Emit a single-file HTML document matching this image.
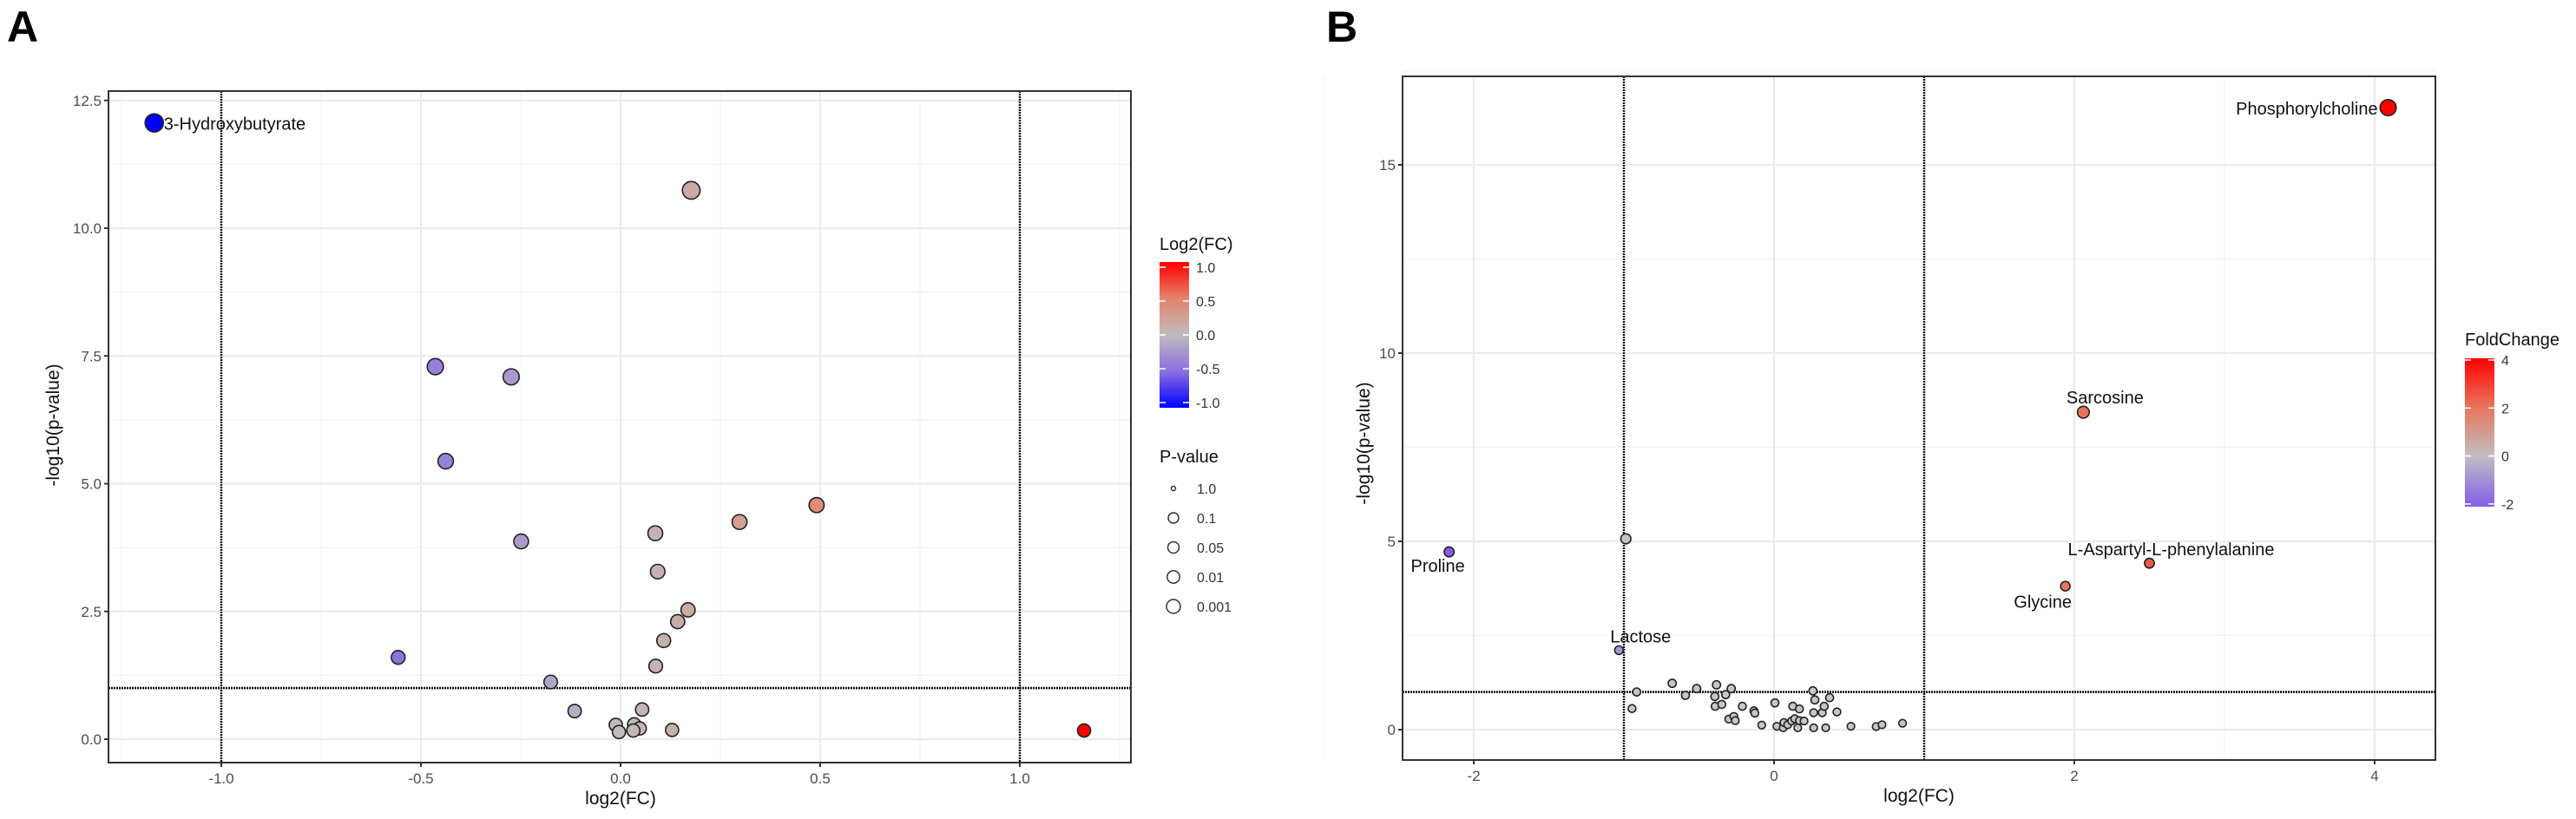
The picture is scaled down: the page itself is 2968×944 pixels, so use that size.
<!DOCTYPE html>
<html><head><meta charset="utf-8"><style>
html,body{margin:0;padding:0;background:#fff}
svg{display:block;font-family:"Liberation Sans",Arial,sans-serif}
</style></head><body>
<svg id="fig" width="2968" height="944" viewBox="0 0 2968 944" xmlns="http://www.w3.org/2000/svg">
<text x="8" y="48" font-size="50" font-weight="bold">A</text>
<text x="1528" y="48" font-size="50" font-weight="bold">B</text>
<g id="pa"></g>
<g id="pb"></g>
</svg>
<script>
// Panel A data
const aFC = [-1.168,-0.464,-0.274,-0.438,-0.249,-0.557,-0.175,-0.115,-0.012,-0.004,0.177,0.491,0.298,0.087,0.093,0.169,0.143,0.108,0.088,0.054,0.034,0.048,0.032,0.129,1.161];
const aP = [12.06,7.29,7.09,5.44,3.87,1.60,1.12,0.55,0.28,0.14,10.74,4.58,4.25,4.03,3.28,2.53,2.30,1.93,1.43,0.58,0.29,0.21,0.17,0.18,0.17];
const aLabels = ["3-Hydroxybutyrate","","","","","","","","","","","","","","","","","","","","","","","",""];
const aXTicks = [-1.0,-0.5,0.0,0.5,1.0];
const aYTicks = [0.0,2.5,5.0,7.5,10.0,12.5];
const aColorTicks = [1.0,0.5,0.0,-0.5,-1.0];
const aSizeLabels = ["1.0","0.1","0.05","0.01","0.001"];
// Panel B data
const bFC = [4.09,2.06,2.50,1.94,-2.164,-0.987,-1.033,-0.915,-0.946,-0.678,-0.590,-0.515,-0.383,-0.285,-0.394,-0.322,-0.392,-0.348,-0.301,-0.268,-0.258,-0.211,-0.134,-0.128,-0.082,0.006,0.019,0.061,0.066,0.091,0.117,0.125,0.138,0.158,0.169,0.169,0.200,0.259,0.272,0.264,0.264,0.321,0.334,0.370,0.344,0.419,0.512,0.680,0.719,0.856];
const bP = [16.52,8.43,4.42,3.81,4.72,5.07,2.11,1.00,0.56,1.23,0.91,1.09,1.19,1.09,0.88,0.93,0.62,0.67,0.28,0.35,0.24,0.62,0.50,0.44,0.12,0.71,0.09,0.05,0.19,0.13,0.23,0.62,0.29,0.05,0.55,0.24,0.23,1.03,0.79,0.05,0.45,0.45,0.62,0.85,0.05,0.47,0.09,0.08,0.13,0.17];
const bColorVal = [4.09,2.06,2.50,1.94,-2.164,0,-1.033,-0.1,-0.1,-0.1,-0.1,-0.1,-0.1,-0.1,-0.1,-0.1,-0.1,-0.1,-0.1,-0.1,-0.1,-0.1,-0.1,-0.1,-0.05,0,0,0,0,0,0,0,0,0,0,0,0,0,0,0,0,0,0,0,0,0,0,0,0,0];
const bLabels = ["Phosphorylcholine","Sarcosine","L-Aspartyl-L-phenylalanine","Glycine","Proline","","Lactose"];
const bXTicks = [-2,0,2,4];
const bYTicks = [0,5,10,15];
const bColorTicks = [4,2,0,-2];

const NS="http://www.w3.org/2000/svg";
function mk(parent,tag,attrs,text){const e=document.createElementNS(NS,tag);for(const k in attrs)e.setAttribute(k,attrs[k]);if(text!==undefined)e.textContent=text;parent.appendChild(e);return e;}
function lerp(a,b,t){return Math.round(a+(b-a)*t);}
function grad(stops,t){t=Math.max(0,Math.min(1,t));for(let i=0;i<stops.length-1;i++){const [t0,c0]=stops[i],[t1,c1]=stops[i+1];if(t<=t1){const u=(t-t0)/(t1-t0);return `rgb(${lerp(c0[0],c1[0],u)},${lerp(c0[1],c1[1],u)},${lerp(c0[2],c1[2],u)})`;}}const c=stops[stops.length-1][1];return `rgb(${c})`;}
const stopsA=[[0,[0,0,255]],[0.25,[140,110,225]],[0.5,[192,188,188]],[0.75,[228,130,108]],[1,[255,0,0]]];
const stopsB=[[0,[132,92,232]],[0.333,[200,198,200]],[0.666,[232,118,92]],[1,[255,0,0]]];

function panel(g,cfg){
  const X=v=>cfg.x0+cfg.kx*v, Y=v=>cfg.y0-cfg.ky*v;
  cfg.xMinor.forEach(v=>{const l=mk(g,'line',{x1:X(v),x2:X(v),y1:cfg.top,y2:cfg.bottom,stroke:'#f2f2f2','stroke-width':1.2});
    
    });
  cfg.yMinor.forEach(v=>{const l=mk(g,'line',{x1:cfg.left,x2:cfg.right,y1:Y(v),y2:Y(v),stroke:'#f2f2f2','stroke-width':1.2});
    
    });
  cfg.xTicks.forEach(v=>{const l=mk(g,'line',{x1:X(v),x2:X(v),y1:cfg.top,y2:cfg.bottom,stroke:'#ebebeb','stroke-width':2.2});
    
    
    const tk=mk(g,'line',{x1:X(v),x2:X(v),y1:cfg.bottom,y2:cfg.bottom+5,stroke:'#333','stroke-width':2});
    
    
    const t=mk(g,'text',{x:X(v),y:cfg.bottom+24,'font-size':17,fill:'#4d4d4d','text-anchor':'middle'},cfg.fmtX(v));
    
    });
  cfg.yTicks.forEach(v=>{const l=mk(g,'line',{x1:cfg.left,x2:cfg.right,y1:Y(v),y2:Y(v),stroke:'#ebebeb','stroke-width':2.2});
    
    
    const tk=mk(g,'line',{x1:cfg.left-5,x2:cfg.left,y1:Y(v),y2:Y(v),stroke:'#333','stroke-width':2});
    
    
    const t=mk(g,'text',{x:cfg.left-8,y:Y(v)+6,'font-size':17,fill:'#4d4d4d','text-anchor':'end'},cfg.fmtY(v));
    
    });
  cfg.vlines.forEach(v=>{const l=mk(g,'line',{x1:X(v),x2:X(v),y1:cfg.top,y2:cfg.bottom,stroke:'#111','stroke-width':2.4,'stroke-dasharray':'2 1'});
    
    });
  const h=mk(g,'line',{x1:cfg.left,x2:cfg.right,y1:Y(cfg.hline),y2:Y(cfg.hline),stroke:'#111','stroke-width':2.6,'stroke-dasharray':'2 1'});
  
  
  cfg.fc.forEach((v,i)=>{const r=Math.min(cfg.rMax,cfg.r0+cfg.rk*cfg.p[i]);
    const cv=cfg.cval?cfg.cval[i]:v;
    const c=mk(g,'circle',{cx:X(v),cy:Y(cfg.p[i]),r:r,fill:grad(cfg.stops,(cv-cfg.cmin)/(cfg.cmax-cfg.cmin)),stroke:'#222','stroke-width':1.6});
    
    });
  cfg.labels.forEach((s,i)=>{if(!s)return;const o=cfg.labelOff[i];
    const t=mk(g,'text',{x:X(cfg.fc[i])+o[0],y:Y(cfg.p[i])+o[1],'font-size':20,fill:'#111','text-anchor':o[2]},s);
    
    });
  const b=mk(g,'rect',{x:cfg.left,y:cfg.top,width:cfg.right-cfg.left,height:cfg.bottom-cfg.top,fill:'none',stroke:'#333','stroke-width':2});
  
  
  const xt=mk(g,'text',{x:cfg.xTitleX,y:cfg.bottom+48,'font-size':21,fill:'#111','text-anchor':'middle'},'log2(FC)');
  
  
  const yt=mk(g,'text',{x:0,y:0,'font-size':21,fill:'#111','text-anchor':'middle',transform:`translate(${cfg.yTitleX},${cfg.yTitleY}) rotate(-90)`},'-log10(p-value)');
  
  
}

const ga=document.getElementById('pa'), gb=document.getElementById('pb');
panel(ga,{x0:715,kx:460,y0:852,ky:58.9,left:125,right:1303,top:105,bottom:879,
  xTicks:aXTicks,yTicks:aYTicks,xMinor:[-1.25,-0.75,-0.25,0.25,0.75,1.25],yMinor:[1.25,3.75,6.25,8.75,11.25],
  fmtX:v=>v.toFixed(1),fmtY:v=>v.toFixed(1),vlines:[-1,1],hline:1,
  fc:aFC,p:aP,labels:aLabels,labelOff:[[11,8,'start']],stops:stopsA,cmin:-1.168,cmax:1.161,
  r0:7.5,rk:0.25,rMax:11,xTitleX:715,yTitleX:68,yTitleY:490});
panel(gb,{x0:2044,kx:173,y0:841,ky:43.4,left:1616,right:2806,top:88,bottom:876,
  xTicks:bXTicks,yTicks:bYTicks,xMinor:[-3,-1,1,3],yMinor:[2.5,7.5,12.5,17.5],
  fmtX:v=>String(v),fmtY:v=>String(v),vlines:[-1,1],hline:1,
  fc:bFC,p:bP,cval:bColorVal,labels:bLabels,labelOff:[[-12,8,'end'],[25,-10,'middle'],[25,-9,'middle'],[-26,25,'middle'],[-13,23,'middle'],[0,0,'middle'],[25,-9,'middle']],
  stops:stopsB,cmin:-2.164,cmax:4.09,r0:4.3,rk:0.3,rMax:9.5,xTitleX:2211,yTitleX:1578,yTitleY:511});

const defs=mk(document.getElementById('fig'),'defs',{});
const la=mk(defs,'linearGradient',{id:'ga',x1:0,y1:0,x2:0,y2:1});
[[0,'#ff0000'],[0.25,'#e4826c'],[0.5,'#c0bcbc'],[0.75,'#8c6ee1'],[1,'#0000ff']].forEach(s=>mk(la,'stop',{offset:s[0],'stop-color':s[1]}));
const lb=mk(defs,'linearGradient',{id:'gb',x1:0,y1:0,x2:0,y2:1});
[[0,'#ff0000'],[0.33,'#e8765c'],[0.66,'#c0bec2'],[1,'#845ce8']].forEach(s=>mk(lb,'stop',{offset:s[0],'stop-color':s[1]}));

const legA=mk(ga,'g',{});


mk(legA,'text',{x:1336,y:288,'font-size':20,fill:'#111'},'Log2(FC)');
mk(legA,'rect',{x:1336,y:302,width:34,height:168,fill:'url(#ga)'});
aColorTicks.forEach((v,i)=>{const y=308+i*39;
  mk(legA,'text',{x:1378,y:y+6,'font-size':16,fill:'#333'},v.toFixed(1));
  mk(legA,'line',{x1:1336,x2:1343,y1:y,y2:y,stroke:'#fff','stroke-width':1.5});
  mk(legA,'line',{x1:1363,x2:1370,y1:y,y2:y,stroke:'#fff','stroke-width':1.5});});
const legS=mk(ga,'g',{});


mk(legS,'text',{x:1336,y:533,'font-size':20,fill:'#111'},'P-value');
const sr=[2.5,6,6.5,7.2,8];
aSizeLabels.forEach((s,i)=>{const y=563+i*34;
  mk(legS,'circle',{cx:1352,cy:y,r:sr[i],fill:'none',stroke:'#333','stroke-width':1.5});
  mk(legS,'text',{x:1379,y:y+6,'font-size':16,fill:'#333'},s);});

const legB=mk(gb,'g',{});


mk(legB,'text',{x:2840,y:398,'font-size':20,fill:'#111'},'FoldChange');
mk(legB,'rect',{x:2840,y:413,width:34,height:171,fill:'url(#gb)'});
bColorTicks.forEach((v,i)=>{const y=415+i*55.3;
  mk(legB,'text',{x:2882,y:y+6,'font-size':16,fill:'#333'},String(v));
  mk(legB,'line',{x1:2840,x2:2847,y1:y,y2:y,stroke:'#fff','stroke-width':1.5});
  mk(legB,'line',{x1:2867,x2:2874,y1:y,y2:y,stroke:'#fff','stroke-width':1.5});});
</script>
</body></html>
